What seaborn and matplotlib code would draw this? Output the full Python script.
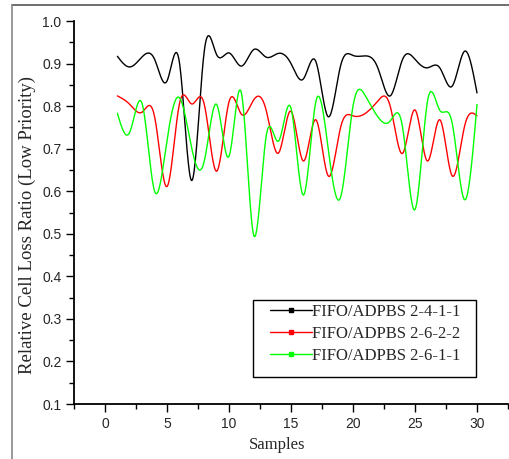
import numpy as np
import pandas as pd
import matplotlib
matplotlib.use("Agg")
import matplotlib.pyplot as plt
from matplotlib.lines import Line2D
from matplotlib.patches import Rectangle
import seaborn as sns

# ---- data -------------------------------------------------------------
samples = list(range(1, 31))

fifo_2411 = [0.917, 0.892, 0.916, 0.910, 0.859, 0.903, 0.625, 0.928, 0.921, 0.925,
             0.894, 0.933, 0.915, 0.924, 0.900, 0.864, 0.905, 0.775, 0.895, 0.919,
             0.918, 0.890, 0.824, 0.910, 0.910, 0.890, 0.890, 0.847, 0.929, 0.831]

fifo_2622 = [0.824, 0.804, 0.786, 0.775, 0.611, 0.805, 0.805, 0.805, 0.647, 0.810,
             0.781, 0.815, 0.790, 0.690, 0.788, 0.671, 0.768, 0.636, 0.750, 0.777,
             0.783, 0.812, 0.800, 0.689, 0.791, 0.671, 0.768, 0.636, 0.753, 0.777]

fifo_2611 = [0.783, 0.739, 0.805, 0.600, 0.720, 0.820, 0.700, 0.670, 0.804, 0.682,
             0.831, 0.496, 0.730, 0.718, 0.795, 0.591, 0.810, 0.700, 0.586, 0.800,
             0.824, 0.775, 0.765, 0.750, 0.557, 0.810, 0.790, 0.760, 0.580, 0.804]

series_names = ["FIFO/ADPBS 2-4-1-1", "FIFO/ADPBS 2-6-2-2", "FIFO/ADPBS 2-6-1-1"]
series_values = [fifo_2411, fifo_2622, fifo_2611]
series_colors = ["#000000", "#ff0000", "#00ff00"]

x_ticks = [0, 5, 10, 15, 20, 25, 30]
y_ticks = [0.1, 0.2, 0.3, 0.4, 0.5, 0.6, 0.7, 0.8, 0.9, 1.0]


def natural_spline(x, y, xs):
    """Natural cubic spline through (x, y), evaluated at xs."""
    x = np.asarray(x, float)
    y = np.asarray(y, float)
    n = len(x)
    h = np.diff(x)
    A = np.zeros((n, n))
    b = np.zeros(n)
    A[0, 0] = A[-1, -1] = 1.0
    for i in range(1, n - 1):
        A[i, i - 1] = h[i - 1]
        A[i, i] = 2 * (h[i - 1] + h[i])
        A[i, i + 1] = h[i]
        b[i] = 6 * ((y[i + 1] - y[i]) / h[i] - (y[i] - y[i - 1]) / h[i - 1])
    M = np.linalg.solve(A, b)
    idx = np.clip(np.searchsorted(x, xs) - 1, 0, n - 2)
    x0, x1 = x[idx], x[idx + 1]
    hh = x1 - x0
    t0, t1 = x1 - xs, xs - x0
    return (M[idx] * t0 ** 3 / (6 * hh) + M[idx + 1] * t1 ** 3 / (6 * hh)
            + (y[idx] / hh - M[idx] * hh / 6) * t0
            + (y[idx + 1] / hh - M[idx + 1] * hh / 6) * t1)


# smooth curves through the sample points
xs = np.linspace(samples[0], samples[-1], 600)
curve_frames = []
for name, vals in zip(series_names, series_values):
    curve_frames.append(pd.DataFrame({"Samples": xs,
                                      "ratio": natural_spline(samples, vals, xs),
                                      "series": name}))
curves = pd.concat(curve_frames, ignore_index=True)
palette = dict(zip(series_names, series_colors))

# ---- figure -----------------------------------------------------------
sns.set_style("ticks")
plt.rcParams["font.family"] = ["Liberation Sans", "DejaVu Sans"]

W, H = 509, 459
fig = plt.figure(figsize=(W / 100, H / 100), dpi=100)
ax = fig.add_axes([74 / W, 55 / H, 434 / W, 383 / H])

sns.lineplot(data=curves, x="Samples", y="ratio", hue="series", palette=palette,
             sort=False, linewidth=1.0, legend=False, ax=ax)

ax.set_xlim(-2.5, 32.5)
ax.set_ylim(0.1, 1.0)
ax.set_xticks(x_ticks)
ax.set_yticks(y_ticks)
ax.set_xticks(np.arange(-2.5, 33, 2.5), minor=True)
ax.set_yticks(np.arange(0.1, 1.0001, 0.05), minor=True)
ax.set_yticklabels([f"{v:.1f}" for v in y_ticks])
ax.tick_params(which="major", direction="out", length=6, width=1.0, color="black",
               labelsize=10, pad=3)
ax.tick_params(which="minor", direction="out", length=3.5, width=1.0, color="black")

for side in ("top", "right"):
    ax.spines[side].set_visible(False)
for side in ("left", "bottom"):
    ax.spines[side].set_linewidth(1.3)
    ax.spines[side].set_color("black")

serif = ["Liberation Serif", "DejaVu Serif"]
ax.set_xlabel("Samples", family=serif, fontsize=12)
ax.set_ylabel("Relative Cell Loss Ratio (Low Priority)", family=serif, fontsize=13.5)
ax.xaxis.set_label_coords((277 - 74) / 434, (404 - 437) / 383)
ax.yaxis.set_label_coords((36 - 74) / 434, (404 - 225) / 383)

# legend: framed box with the entries placed inside it
ax.add_patch(Rectangle(((253 - 74) / 434, (404 - 377) / 383), 223 / 434, 77 / 383,
                       transform=ax.transAxes, facecolor="white", edgecolor="black",
                       lw=1.0, zorder=4.5))
handles = [Line2D([0], [0], color=c, lw=1.0, marker="s", markersize=2.2)
           for c in series_colors]
leg = ax.legend(handles, series_names, loc="upper left",
                bbox_to_anchor=((270 - 74) / 434, (404 - 304) / 383),
                prop={"family": serif, "size": 12}, frameon=False,
                handlelength=2.5, handletextpad=0.0,
                labelspacing=0.35, borderpad=0, borderaxespad=0)
leg.set_zorder(5)

# outer page frame
fig.add_artist(Line2D([12 / W, 1], [1 - 5 / H, 1 - 5 / H], transform=fig.transFigure,
                      color="#555555", lw=1.2))
fig.add_artist(Line2D([12 / W, 12 / W], [0, 1 - 5 / H], transform=fig.transFigure,
                      color="#888888", lw=1.2))

fig.savefig("out.png", dpi=100)
